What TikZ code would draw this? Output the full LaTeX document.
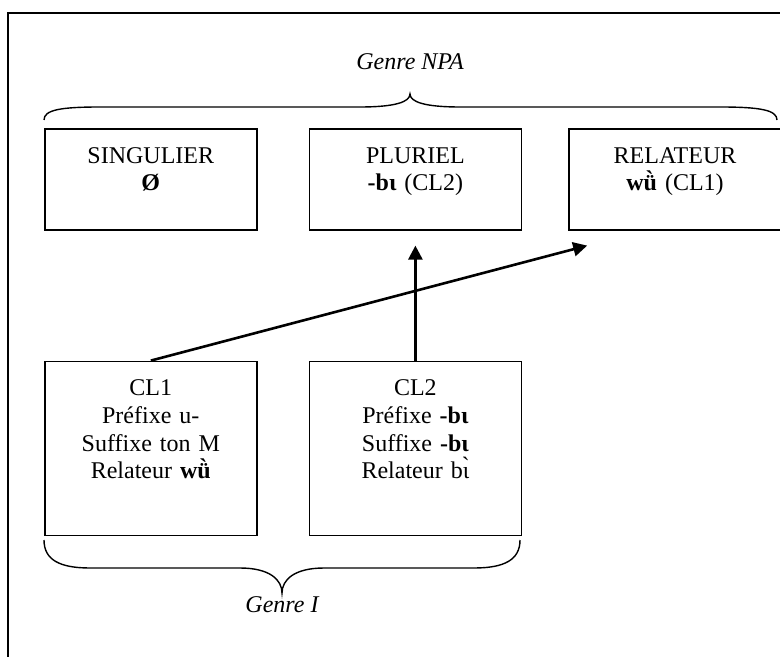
\documentclass[tikz,border=0pt]{standalone}
\usepackage{fontspec}
\setmainfont{Liberation Serif}
\usetikzlibrary{arrows.meta, positioning}
\tikzset{
  cat/.style={draw, line width=0.8pt, inner sep=0pt, text width=106pt, align=center,
    text height=17.25pt, text depth=33.25pt},
  cl/.style={cat, text depth=69.75pt},
  genre/.style={inner sep=0pt, font=\fontsize{12}{13.8}\selectfont\itshape},
  brace/.style={line width=0.7pt},
  link/.style={->, line width=1.3pt},
}

\begin{document}
\begin{tikzpicture}[x=0.5pt, y=-0.5pt, >={Triangle[length=7pt, width=7pt]}, node distance=25.5pt,
  every node/.style={font=\fontsize{12}{13.8}\selectfont}]
\useasboundingbox (0,0) rectangle (780,657);
\draw[line width=0.8pt] (8,13) rectangle (800,690);
% genre NPA
\node[cat, anchor=north west] (sing) at (44,128) {SINGULIER\\\textbf{Ø}};
\node[cat, right=of sing] (plur) {PLURIEL\\\textbf{-bɩ} (CL2)};
\node[cat, right=23pt of plur] (rel) {RELATEUR\\\textbf{wǜ} (CL1)};
% genre I
\node[cl, below=65pt of sing] (cl1) {CL1\\Préfixe u-\\Suffixe ton M\\Relateur \textbf{wǜ}};
\node[cl, right=of cl1] (cl2) {CL2\\Préfixe \textbf{-bɩ}\\Suffixe \textbf{-bɩ}\\Relateur bɩ̀};
% braces
\coordinate (ntip) at (410,94);
\coordinate (itip) at (282,593);
\draw[brace] (44,120) .. controls (44,110) and (60,107) .. (100,107) -- (360,107)
  .. controls (395,107) and (410,102) .. (ntip) .. controls (410,102) and (425,107) .. (460,107)
  -- (720,107) .. controls (760,107) and (777,110) .. (777,120);
\draw[brace] (44,540) .. controls (44,560) and (60,568) .. (90,568) -- (240,568)
  .. controls (270,568) and (282,580) .. (itip) .. controls (282,580) and (294,568) .. (324,568)
  -- (474,568) .. controls (504,568) and (520,560) .. (520,540);
\node[genre, above=12pt of ntip] (gnpa) {Genre NPA};
\node[genre, below=1.5pt of itip] (gi) {Genre I};
% arrows
\coordinate (plurin) at ([yshift=-7.5pt]plur.south);
\coordinate (relin) at ([xshift=9.5pt, yshift=-7.5pt]rel.south west);
\draw[link] (cl2.north) -- (plurin);
\draw[link] (cl1.north) -- (relin);
\end{tikzpicture}
\end{document}
